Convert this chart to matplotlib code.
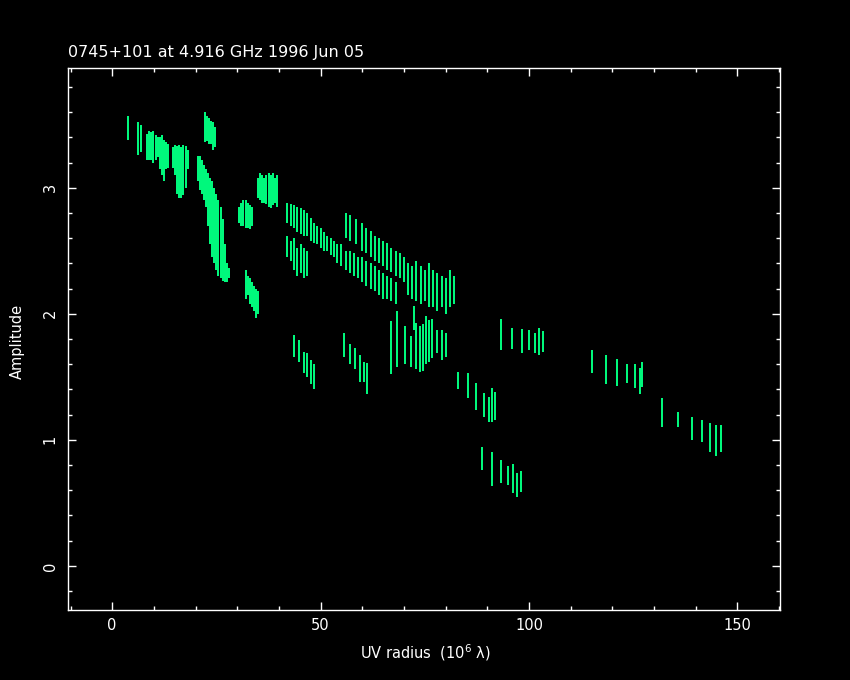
import matplotlib
matplotlib.use("Agg")
import matplotlib.pyplot as plt
from matplotlib.ticker import MultipleLocator

title = "0745+101 at 4.916 GHz 1996 Jun 05"

# Visibility streaks: UV radius (10^6 lambda), amplitude low / high
streak_uv = [
    # short baselines
    3.8, 6.3, 7.0,
    8.4, 8.9, 9.4, 9.9, 10.4, 10.9,
    11.5, 12.0, 12.5, 13.0, 13.5,
    14.6, 15.1, 15.6, 16.1, 16.6, 17.1, 17.6, 18.1,
    22.2, 22.7, 23.2, 23.7, 24.2, 24.7,
    20.5, 21.0, 21.5, 22.0, 22.5, 23.0, 23.5, 24.0, 24.5, 25.0, 25.5, 26.0, 26.5, 27.0, 27.5, 28.0,
    30.5, 31.0, 31.5, 32.0, 32.5, 33.0, 33.5,
    35.0, 35.5, 36.0, 36.5, 37.0, 37.5, 38.0, 38.5, 39.0, 39.5,
    32.0, 32.5, 33.0, 33.5, 34.0, 34.5, 35.0,
    # middle baselines, upper bands
    42.0, 42.8, 43.6, 44.4, 45.2, 46.0, 46.8, 47.6, 48.4, 49.2, 50.0, 50.8, 51.6, 52.4, 53.2,
    42.0, 42.8, 43.6, 44.4, 45.2, 46.0, 46.8,
    54.0, 55.0, 56.0, 57.0, 58.0, 59.0, 60.0, 61.0, 62.0, 63.0, 64.0, 65.0, 66.0, 67.0, 68.0,
    56.0, 57.0, 58.5, 60.0, 61.0, 62.0, 63.0, 64.0, 65.0, 66.0, 67.0, 68.0, 69.0, 70.0,
    71.0, 72.0, 73.0, 74.0, 75.0, 76.0, 77.0, 78.0, 79.0, 80.0, 81.0, 82.0,
    # middle baselines, lower groups
    43.7, 44.9, 46.1, 46.8, 47.8, 48.5,
    55.5, 57.1, 58.3, 59.5, 60.5, 61.2,
    67.0, 68.4, 70.3, 71.7, 72.3, 73.0, 73.8, 74.5, 75.2, 76.0, 76.6, 77.8, 79.0, 80.0,
    # long baselines
    93.3, 96.0, 98.2, 100.0, 101.5, 102.5, 103.4,
    83.0, 85.4, 87.3, 89.1, 90.3, 91.2, 91.9,
    88.6, 91.2, 93.3, 95.0, 96.2, 97.2, 98.0,
    115.2, 118.5, 121.2, 123.4, 125.3, 126.5, 127.2,
    132.0, 135.8, 139.0, 141.6, 143.5, 144.9, 146.1,
]
streak_lo = [
    3.38, 3.26, 3.28,
    3.22, 3.22, 3.22, 3.20, 3.22, 3.24,
    3.15, 3.10, 3.05, 3.15, 3.16,
    3.16, 3.10, 2.95, 2.92, 2.92, 2.94, 3.00, 3.15,
    3.36, 3.37, 3.35, 3.35, 3.30, 3.32,
    3.05, 2.98, 2.95, 2.90, 2.85, 2.70, 2.55, 2.45, 2.40, 2.35, 2.30, 2.28, 2.26, 2.25, 2.25, 2.28,
    2.72, 2.70, 2.70, 2.68, 2.68, 2.67, 2.70,
    2.92, 2.90, 2.88, 2.88, 2.87, 2.85, 2.84, 2.86, 2.88, 2.85,
    2.12, 2.15, 2.08, 2.05, 2.02, 1.97, 2.00,
    2.72, 2.70, 2.68, 2.65, 2.63, 2.62, 2.62, 2.58, 2.56, 2.55, 2.52, 2.50, 2.50, 2.47, 2.45,
    2.45, 2.42, 2.35, 2.30, 2.32, 2.28, 2.30,
    2.40, 2.38, 2.35, 2.32, 2.30, 2.28, 2.25, 2.22, 2.20, 2.18, 2.15, 2.12, 2.12, 2.10, 2.08,
    2.60, 2.58, 2.55, 2.50, 2.48, 2.45, 2.42, 2.40, 2.38, 2.35, 2.33, 2.30, 2.28, 2.25,
    2.15, 2.12, 2.10, 2.08, 2.10, 2.05, 2.05, 2.02, 2.05, 2.00, 2.05, 2.08,
    1.66, 1.62, 1.53, 1.50, 1.44, 1.40,
    1.66, 1.60, 1.56, 1.46, 1.46, 1.36,
    1.52, 1.58, 1.60, 1.58, 1.87, 1.56, 1.54, 1.55, 1.60, 1.62, 1.65, 1.69, 1.63, 1.66,
    1.71, 1.72, 1.69, 1.71, 1.69, 1.67, 1.70,
    1.40, 1.33, 1.24, 1.18, 1.14, 1.14, 1.16,
    0.76, 0.63, 0.66, 0.64, 0.58, 0.55, 0.59,
    1.53, 1.44, 1.43, 1.45, 1.41, 1.36, 1.42,
    1.10, 1.10, 1.00, 0.98, 0.90, 0.87, 0.90,
]
streak_hi = [
    3.57, 3.52, 3.50,
    3.43, 3.45, 3.44, 3.45, 3.42, 3.40,
    3.40, 3.42, 3.38, 3.36, 3.35,
    3.32, 3.34, 3.33, 3.34, 3.32, 3.34, 3.33, 3.30,
    3.60, 3.57, 3.55, 3.53, 3.52, 3.48,
    3.25, 3.25, 3.22, 3.18, 3.15, 3.12, 3.08, 3.05, 3.00, 2.95, 2.90, 2.85, 2.75, 2.55, 2.40, 2.36,
    2.85, 2.88, 2.90, 2.90, 2.88, 2.86, 2.85,
    3.08, 3.12, 3.10, 3.08, 3.10, 3.12, 3.10, 3.12, 3.08, 3.10,
    2.35, 2.30, 2.28, 2.25, 2.22, 2.20, 2.18,
    2.88, 2.87, 2.86, 2.85, 2.84, 2.82, 2.80, 2.76, 2.72, 2.70, 2.68, 2.65, 2.62, 2.60, 2.58,
    2.62, 2.58, 2.60, 2.52, 2.55, 2.52, 2.50,
    2.55, 2.55, 2.50, 2.50, 2.48, 2.45, 2.45, 2.42, 2.40, 2.38, 2.35, 2.32, 2.30, 2.28, 2.25,
    2.80, 2.78, 2.75, 2.72, 2.68, 2.66, 2.62, 2.60, 2.58, 2.56, 2.52, 2.50, 2.48, 2.45,
    2.40, 2.38, 2.42, 2.38, 2.35, 2.40, 2.35, 2.32, 2.30, 2.28, 2.35, 2.30,
    1.83, 1.79, 1.70, 1.69, 1.63, 1.60,
    1.85, 1.76, 1.73, 1.67, 1.62, 1.61,
    1.94, 2.02, 1.90, 1.82, 2.06, 1.93, 1.90, 1.92, 1.98, 1.95, 1.96, 1.87, 1.87, 1.85,
    1.96, 1.89, 1.88, 1.87, 1.85, 1.89, 1.86,
    1.54, 1.53, 1.45, 1.37, 1.34, 1.41, 1.38,
    0.94, 0.90, 0.84, 0.79, 0.81, 0.74, 0.75,
    1.71, 1.67, 1.64, 1.60, 1.60, 1.57, 1.62,
    1.33, 1.22, 1.18, 1.16, 1.13, 1.12, 1.12,
]

fig = plt.figure(figsize=(8.5, 6.8), dpi=100, facecolor="black")
ax = fig.add_axes([68 / 850, 70 / 680, 712 / 850, 542 / 680])
ax.set_facecolor("black")

ax.vlines(streak_uv, streak_lo, streak_hi, colors="#00ff80", linewidth=1.4)

ax.set_xlim(-10.6, 160.2)
ax.set_ylim(-0.35, 3.95)
ax.xaxis.set_major_locator(MultipleLocator(50))
ax.xaxis.set_minor_locator(MultipleLocator(10))
ax.yaxis.set_major_locator(MultipleLocator(1))
ax.yaxis.set_minor_locator(MultipleLocator(0.2))

for s in ax.spines.values():
    s.set_color("white")
    s.set_linewidth(1)
ax.tick_params(which="both", direction="in", top=True, right=True,
               colors="white", width=1, labelsize=10.5)
ax.tick_params(which="major", length=6.1)
ax.tick_params(which="minor", length=3.2)
ax.tick_params(axis="x", pad=5.5)
ax.tick_params(axis="y", pad=7.5)
for lbl in ax.get_yticklabels():
    lbl.set_rotation(90)
    lbl.set_va("center")

fig.text(68 / 850, 1 - 57 / 680, title, color="white", fontsize=11.5,
         ha="left", va="baseline")
fig.text(425 / 850, 1 - 653 / 680, "UV radius  (10$^6$ λ)",
         color="white", fontsize=10.5, ha="center", va="center")
fig.text(17 / 850, 1 - 341 / 680, "Amplitude", color="white", fontsize=10.5,
         rotation=90, ha="center", va="center")

fig.savefig("out.png", dpi=100, facecolor="black")
